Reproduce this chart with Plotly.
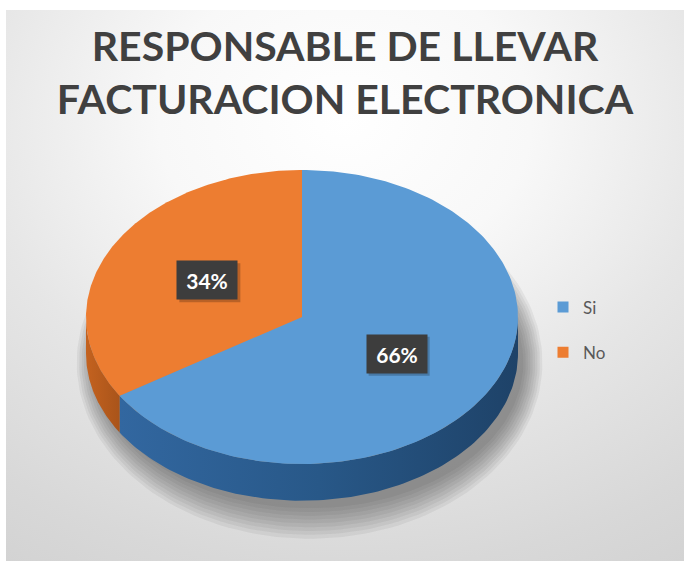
import numpy as np
import plotly.graph_objects as go

# ---------------- data ----------------
categories = ["Si", "No"]
values = [66, 34]
title_lines = ["RESPONSABLE DE LLEVAR", "FACTURACION ELECTRONICA"]

# ---------------- style ----------------
top_colors = ["#5B9BD5", "#ED7D31"]
side_scales = [
    [[0, "#3267A0"], [0.5, "#285888"], [1, "#1E4268"]],
    [[0, "#C4621F"], [1, "#A9541A"]],
]
W, H = 684, 561
CX, CY = 302, 317      # pie centre in px
RX, RY = 216, 147      # pie radii in px
DEPTH = 0.25           # side depth in y-units
X0, Y0 = 6, 10         # start of grey chart area (px)


def px_to_x(px):
    return (px - CX) / RX


def py_to_y(py):
    return (CY - py) / RY


xr = [px_to_x(X0), px_to_x(W)]
yr = [py_to_y(H), py_to_y(Y0)]

fig = go.Figure()

# background radial gradient
bx = [px_to_x(-400), px_to_x(1090), px_to_x(1090), px_to_x(-400), px_to_x(-400)]
by = [py_to_y(-480), py_to_y(-480), py_to_y(720), py_to_y(720), py_to_y(-480)]
fig.add_trace(go.Scatter(
    x=bx, y=by, mode="lines", fill="toself", line=dict(width=0),
    fillgradient=dict(type="radial", colorscale=[
        [0, "#FFFFFF"], [0.25, "#F8F8F8"], [0.5, "#E6E6E6"],
        [0.75, "#D8D8D8"], [1, "#CDCDCD"]]),
    hoverinfo="skip", showlegend=False))

# soft shadow under the pie
t = np.linspace(0, 2 * np.pi, 200)
for k in range(9):
    sx = 0.035 + (0.99 + 0.011 * k) * np.sin(t)
    sy = -DEPTH - 0.06 + (0.99 + 0.026 * k) * np.cos(t)
    fig.add_trace(go.Scatter(
        x=sx, y=sy, mode="lines", fill="toself", line=dict(width=0),
        fillcolor="rgba(50,50,50,0.07)", hoverinfo="skip", showlegend=False))

total = sum(values)
fracs = [v / total for v in values]
starts = np.cumsum([0] + fracs[:-1]) * 360
ends = np.cumsum(fracs) * 360

# sides (front half only: 90..270 deg clockwise from top)
for i in range(len(values)):
    a = max(starts[i], 90)
    b = min(ends[i], 270)
    if b <= a:
        continue
    th = np.radians(np.linspace(a, b, 120))
    xs = np.sin(th)
    ys = np.cos(th)
    px_ = np.concatenate([xs, xs[::-1], xs[:1]])
    py_ = np.concatenate([ys, ys[::-1] - DEPTH, ys[:1]])
    fig.add_trace(go.Scatter(
        x=px_, y=py_, mode="lines", fill="toself", line=dict(width=0),
        fillgradient=dict(type="horizontal", colorscale=side_scales[i]),
        hoverinfo="skip", showlegend=False))

# top faces
for i in range(len(values)):
    th = np.radians(np.linspace(starts[i], ends[i], 200))
    xs = np.concatenate([[0], np.sin(th), [0]])
    ys = np.concatenate([[0], np.cos(th), [0]])
    fig.add_trace(go.Scatter(
        x=xs, y=ys, mode="lines", fill="toself", line=dict(width=0),
        fillcolor=top_colors[i], hoverinfo="skip", showlegend=False))

# legend entries
for i, c in enumerate(categories):
    fig.add_trace(go.Scatter(
        x=[None], y=[None], mode="markers", name=c, legendgroup=c,
        marker=dict(symbol="square", size=11, color=top_colors[i])))

# data labels (box shadow as pixel-sized shapes anchored to the label point)
annotations = []
shapes = []
for i in range(len(values)):
    mid = np.radians((starts[i] + ends[i]) / 2)
    lx, ly = 0.5 * np.sin(mid), 0.52 * np.cos(mid)
    txt = f"{round(fracs[i] * 100)}%"
    shapes.append(dict(
        type="rect", xref="x", yref="y", xsizemode="pixel", ysizemode="pixel",
        xanchor=lx, yanchor=ly, x0=-28, x1=33, y0=-22, y1=17,
        fillcolor="rgba(0,0,0,0.22)", line=dict(width=0), layer="above"))
    annotations.append(dict(
        x=lx, y=ly, xref="x", yref="y", text=txt, showarrow=False,
        width=60, height=38, borderpad=0, bgcolor="#3D3D3D",
        font=dict(family="Lato", size=21, color="#FFFFFF", weight="bold")))

fig.update_layout(
    width=W, height=H,
    margin=dict(l=0, r=0, t=0, b=0),
    paper_bgcolor="#FFFFFF", plot_bgcolor="#FFFFFF",
    title=dict(text="<br>".join(title_lines), x=345 / W, xanchor="center",
               y=1 - 61 / H, yanchor="top", yref="container",
               font=dict(family="Lato", size=41, color="#404040", weight="bold")),
    xaxis=dict(visible=False, range=xr, domain=[X0 / W, 1], fixedrange=True),
    yaxis=dict(visible=False, range=yr, domain=[0, 1 - Y0 / H], fixedrange=True),
    showlegend=True,
    legend=dict(x=543 / W, xanchor="left", y=1 - 330 / H, yanchor="middle",
                bgcolor="rgba(0,0,0,0)", tracegroupgap=20,
                font=dict(family="Lato", size=17, color="#595959")),
    annotations=annotations,
    shapes=shapes,
)

fig.write_html("out.html", config={"displayModeBar": False},
               post_script="document.body.style.margin='0';")
